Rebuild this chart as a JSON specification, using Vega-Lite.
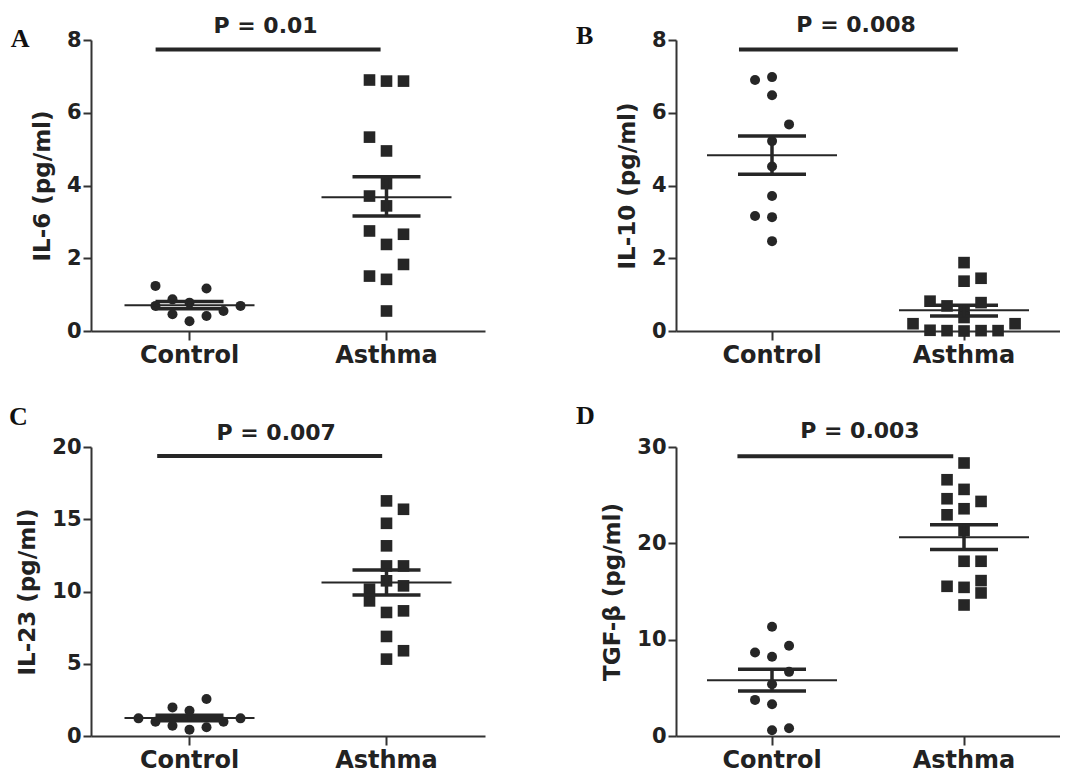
{
  "$schema": "https://vega.github.io/schema/vega-lite/v6.json",
  "padding": {"left": 9, "top": 14, "right": 0, "bottom": 0},
  "background": "white",
  "columns": 2,
  "spacing": {"row": 35, "column": 90},
  "datasets": {
    "a_pts": [
      {"group": "Control", "col": -2, "value": 1.24},
      {"group": "Control", "col": 1, "value": 1.17},
      {"group": "Control", "col": -2, "value": 0.69},
      {"group": "Control", "col": -1, "value": 0.87},
      {"group": "Control", "col": 0, "value": 0.78},
      {"group": "Control", "col": -1, "value": 0.46},
      {"group": "Control", "col": 0, "value": 0.27},
      {"group": "Control", "col": 1, "value": 0.41},
      {"group": "Control", "col": 2, "value": 0.55},
      {"group": "Control", "col": 3, "value": 0.69},
      {"group": "Asthma", "col": -1, "value": 6.9},
      {"group": "Asthma", "col": 0, "value": 6.87},
      {"group": "Asthma", "col": 1, "value": 6.87},
      {"group": "Asthma", "col": -1, "value": 5.33},
      {"group": "Asthma", "col": 0, "value": 4.95},
      {"group": "Asthma", "col": 0, "value": 4.05},
      {"group": "Asthma", "col": -1, "value": 3.71},
      {"group": "Asthma", "col": 0, "value": 3.44},
      {"group": "Asthma", "col": -1, "value": 2.75},
      {"group": "Asthma", "col": 1, "value": 2.66},
      {"group": "Asthma", "col": 0, "value": 2.38},
      {"group": "Asthma", "col": 1, "value": 1.83},
      {"group": "Asthma", "col": -1, "value": 1.51},
      {"group": "Asthma", "col": 0, "value": 1.42},
      {"group": "Asthma", "col": 0, "value": 0.55}
    ],
    "a_stats": [
      {"group": "Control", "mean": 0.71, "lo": 0.61, "hi": 0.81},
      {"group": "Asthma", "mean": 3.68, "lo": 3.16, "hi": 4.24}
    ],
    "a_note": [{"p": "P = 0.01", "letter": "A"}],
    "b_pts": [
      {"group": "Control", "col": -1, "value": 6.9},
      {"group": "Control", "col": 0, "value": 6.98},
      {"group": "Control", "col": 0, "value": 6.48},
      {"group": "Control", "col": 1, "value": 5.68},
      {"group": "Control", "col": 0, "value": 5.22},
      {"group": "Control", "col": 0, "value": 4.52},
      {"group": "Control", "col": 0, "value": 3.71},
      {"group": "Control", "col": -1, "value": 3.16},
      {"group": "Control", "col": 0, "value": 3.13},
      {"group": "Control", "col": 0, "value": 2.47},
      {"group": "Asthma", "col": 0, "value": 1.88},
      {"group": "Asthma", "col": 0, "value": 1.37},
      {"group": "Asthma", "col": 1, "value": 1.45},
      {"group": "Asthma", "col": -2, "value": 0.82},
      {"group": "Asthma", "col": -1, "value": 0.69},
      {"group": "Asthma", "col": 0, "value": 0.58},
      {"group": "Asthma", "col": 1, "value": 0.78},
      {"group": "Asthma", "col": 0, "value": 0.37},
      {"group": "Asthma", "col": -3, "value": 0.2},
      {"group": "Asthma", "col": -2, "value": 0.02},
      {"group": "Asthma", "col": -1, "value": 0.01},
      {"group": "Asthma", "col": 0, "value": 0.0},
      {"group": "Asthma", "col": 1, "value": 0.01},
      {"group": "Asthma", "col": 2, "value": 0.01},
      {"group": "Asthma", "col": 3, "value": 0.2}
    ],
    "b_stats": [
      {"group": "Control", "mean": 4.83, "lo": 4.31, "hi": 5.36},
      {"group": "Asthma", "mean": 0.57, "lo": 0.41, "hi": 0.71}
    ],
    "b_note": [{"p": "P = 0.008", "letter": "B"}],
    "c_pts": [
      {"group": "Control", "col": 1, "value": 2.56},
      {"group": "Control", "col": -1, "value": 1.98},
      {"group": "Control", "col": 0, "value": 1.75},
      {"group": "Control", "col": -3, "value": 1.22},
      {"group": "Control", "col": 3, "value": 1.22},
      {"group": "Control", "col": -2, "value": 0.99},
      {"group": "Control", "col": -1, "value": 0.71},
      {"group": "Control", "col": 1, "value": 0.6},
      {"group": "Control", "col": 2, "value": 0.99},
      {"group": "Control", "col": 0, "value": 0.44},
      {"group": "Asthma", "col": 0, "value": 16.27},
      {"group": "Asthma", "col": 1, "value": 15.69},
      {"group": "Asthma", "col": 0, "value": 14.72},
      {"group": "Asthma", "col": 0, "value": 13.16},
      {"group": "Asthma", "col": 0, "value": 11.77},
      {"group": "Asthma", "col": 1, "value": 11.77},
      {"group": "Asthma", "col": -1, "value": 10.16},
      {"group": "Asthma", "col": 0, "value": 10.74},
      {"group": "Asthma", "col": 1, "value": 10.39},
      {"group": "Asthma", "col": -1, "value": 9.35},
      {"group": "Asthma", "col": 0, "value": 8.55},
      {"group": "Asthma", "col": 1, "value": 8.66},
      {"group": "Asthma", "col": 0, "value": 6.89},
      {"group": "Asthma", "col": 1, "value": 5.9},
      {"group": "Asthma", "col": 0, "value": 5.32}
    ],
    "c_stats": [
      {"group": "Control", "mean": 1.25, "lo": 1.06, "hi": 1.44},
      {"group": "Asthma", "mean": 10.62, "lo": 9.75, "hi": 11.48}
    ],
    "c_note": [{"p": "P = 0.007", "letter": "C"}],
    "d_pts": [
      {"group": "Control", "col": 0, "value": 11.34},
      {"group": "Control", "col": -1, "value": 8.67},
      {"group": "Control", "col": 1, "value": 9.37},
      {"group": "Control", "col": 0, "value": 8.22},
      {"group": "Control", "col": 1, "value": 6.66},
      {"group": "Control", "col": 0, "value": 5.38},
      {"group": "Control", "col": -1, "value": 3.75},
      {"group": "Control", "col": 0, "value": 3.3},
      {"group": "Control", "col": 0, "value": 0.59},
      {"group": "Control", "col": 1, "value": 0.8},
      {"group": "Asthma", "col": 0, "value": 28.34},
      {"group": "Asthma", "col": -1, "value": 26.6},
      {"group": "Asthma", "col": 0, "value": 25.6},
      {"group": "Asthma", "col": -1, "value": 24.63},
      {"group": "Asthma", "col": 1, "value": 24.35},
      {"group": "Asthma", "col": 0, "value": 23.59},
      {"group": "Asthma", "col": -1, "value": 22.96},
      {"group": "Asthma", "col": 0, "value": 21.33},
      {"group": "Asthma", "col": 0, "value": 18.14},
      {"group": "Asthma", "col": 1, "value": 18.14},
      {"group": "Asthma", "col": -1, "value": 15.54},
      {"group": "Asthma", "col": 0, "value": 15.43},
      {"group": "Asthma", "col": 1, "value": 16.13},
      {"group": "Asthma", "col": 1, "value": 14.85},
      {"group": "Asthma", "col": 0, "value": 13.6}
    ],
    "d_stats": [
      {"group": "Control", "mean": 5.79, "lo": 4.68, "hi": 6.94},
      {"group": "Asthma", "mean": 20.64, "lo": 19.35, "hi": 21.92}
    ],
    "d_note": [{"p": "P = 0.003", "letter": "D"}]
  },
  "concat": [
    {
      "width": 394, "height": 291,
      "resolve": {"scale": {"x": "independent"}, "axis": {"x": "independent"}},
      "layer": [
        {
          "layer": [
            {
              "data": {"name": "a_pts"},
              "mark": {"type": "point", "filled": true, "opacity": 1, "color": "#262626"},
              "encoding": {
                "x": {"field": "group", "type": "nominal", "title": null, "scale": {"domain": ["Control", "Asthma"], "paddingInner": 0.482, "paddingOuter": 0.241}},
                "xOffset": {"field": "col", "type": "quantitative", "scale": {"domain": [-3, 3], "nice": false, "zero": false}},
                "y": {"field": "value", "type": "quantitative", "title": "IL-6 (pg/ml)", "scale": {"domain": [0, 8], "nice": false}, "axis": {"values": [0, 2, 4, 6, 8]}},
                "shape": {"field": "group", "type": "nominal", "scale": {"domain": ["Control", "Asthma"], "range": ["circle", "square"]}, "legend": null},
                "size": {"field": "group", "type": "nominal", "scale": {"domain": ["Control", "Asthma"], "range": [100, 135]}, "legend": null}
              }
            },
            {
              "data": {"name": "a_stats"},
              "mark": {"type": "tick", "size": 130, "thickness": 2, "opacity": 1, "color": "#262626"},
              "encoding": {"x": {"field": "group", "type": "nominal", "title": null}, "y": {"field": "mean", "type": "quantitative", "title": "IL-6 (pg/ml)"}}
            },
            {
              "data": {"name": "a_stats"},
              "mark": {"type": "tick", "size": 68, "thickness": 3.5, "opacity": 1, "color": "#262626"},
              "encoding": {"x": {"field": "group", "type": "nominal", "title": null}, "y": {"field": "lo", "type": "quantitative", "title": "IL-6 (pg/ml)"}}
            },
            {
              "data": {"name": "a_stats"},
              "mark": {"type": "tick", "size": 68, "thickness": 3.5, "opacity": 1, "color": "#262626"},
              "encoding": {"x": {"field": "group", "type": "nominal", "title": null}, "y": {"field": "hi", "type": "quantitative", "title": "IL-6 (pg/ml)"}}
            },
            {
              "data": {"name": "a_stats"},
              "mark": {"type": "rule", "strokeWidth": 3.5, "opacity": 1, "color": "#262626"},
              "encoding": {"x": {"field": "group", "type": "nominal", "title": null}, "y": {"field": "lo", "type": "quantitative", "title": "IL-6 (pg/ml)"}, "y2": {"field": "hi"}}
            }
          ]
        },
        {
          "data": {"name": "a_note"},
          "layer": [
            {
              "mark": {"type": "rule", "strokeWidth": 4, "color": "#262626"},
              "encoding": {"x": {"datum": 0.164, "type": "quantitative", "scale": {"domain": [0, 1], "nice": false, "zero": false}, "axis": null}, "x2": {"datum": 0.735}, "y": {"datum": 7.74, "type": "quantitative"}}
            },
            {
              "mark": {"type": "text", "font": "DejaVu Sans", "fontWeight": "bold", "fontSize": 22, "baseline": "middle", "align": "center", "color": "#222222"},
              "encoding": {"x": {"datum": 0.443, "type": "quantitative", "axis": null}, "y": {"datum": 8.385, "type": "quantitative"}, "text": {"field": "p"}}
            },
            {
              "mark": {"type": "text", "font": "Liberation Serif", "fontWeight": "bold", "fontSize": 26, "baseline": "middle", "align": "center", "color": "#111111"},
              "encoding": {"x": {"datum": -0.18, "type": "quantitative", "axis": null}, "y": {"datum": 8.04, "type": "quantitative"}, "text": {"field": "letter"}}
            }
          ]
        }
      ]
    },
    {
      "width": 384, "height": 291,
      "resolve": {"scale": {"x": "independent"}, "axis": {"x": "independent"}},
      "layer": [
        {
          "layer": [
            {
              "data": {"name": "b_pts"},
              "mark": {"type": "point", "filled": true, "opacity": 1, "color": "#262626"},
              "encoding": {
                "x": {"field": "group", "type": "nominal", "title": null, "scale": {"domain": ["Control", "Asthma"], "paddingInner": 0.469, "paddingOuter": 0.2345}},
                "xOffset": {"field": "col", "type": "quantitative", "scale": {"domain": [-3, 3], "nice": false, "zero": false}},
                "y": {"field": "value", "type": "quantitative", "title": "IL-10 (pg/ml)", "scale": {"domain": [0, 8], "nice": false}, "axis": {"values": [0, 2, 4, 6, 8]}},
                "shape": {"field": "group", "type": "nominal", "scale": {"domain": ["Control", "Asthma"], "range": ["circle", "square"]}, "legend": null},
                "size": {"field": "group", "type": "nominal", "scale": {"domain": ["Control", "Asthma"], "range": [100, 135]}, "legend": null}
              }
            },
            {
              "data": {"name": "b_stats"},
              "mark": {"type": "tick", "size": 130, "thickness": 2, "opacity": 1, "color": "#262626"},
              "encoding": {"x": {"field": "group", "type": "nominal", "title": null}, "y": {"field": "mean", "type": "quantitative", "title": "IL-10 (pg/ml)"}}
            },
            {
              "data": {"name": "b_stats"},
              "mark": {"type": "tick", "size": 68, "thickness": 3.5, "opacity": 1, "color": "#262626"},
              "encoding": {"x": {"field": "group", "type": "nominal", "title": null}, "y": {"field": "lo", "type": "quantitative", "title": "IL-10 (pg/ml)"}}
            },
            {
              "data": {"name": "b_stats"},
              "mark": {"type": "tick", "size": 68, "thickness": 3.5, "opacity": 1, "color": "#262626"},
              "encoding": {"x": {"field": "group", "type": "nominal", "title": null}, "y": {"field": "hi", "type": "quantitative", "title": "IL-10 (pg/ml)"}}
            },
            {
              "data": {"name": "b_stats"},
              "mark": {"type": "rule", "strokeWidth": 3.5, "opacity": 1, "color": "#262626"},
              "encoding": {"x": {"field": "group", "type": "nominal", "title": null}, "y": {"field": "lo", "type": "quantitative", "title": "IL-10 (pg/ml)"}, "y2": {"field": "hi"}}
            }
          ]
        },
        {
          "data": {"name": "b_note"},
          "layer": [
            {
              "mark": {"type": "rule", "strokeWidth": 4, "color": "#262626"},
              "encoding": {"x": {"datum": 0.164, "type": "quantitative", "scale": {"domain": [0, 1], "nice": false, "zero": false}, "axis": null}, "x2": {"datum": 0.734}, "y": {"datum": 7.74, "type": "quantitative"}}
            },
            {
              "mark": {"type": "text", "font": "DejaVu Sans", "fontWeight": "bold", "fontSize": 22, "baseline": "middle", "align": "center", "color": "#222222"},
              "encoding": {"x": {"datum": 0.469, "type": "quantitative", "axis": null}, "y": {"datum": 8.4, "type": "quantitative"}, "text": {"field": "p"}}
            },
            {
              "mark": {"type": "text", "font": "Liberation Serif", "fontWeight": "bold", "fontSize": 26, "baseline": "middle", "align": "center", "color": "#111111"},
              "encoding": {"x": {"datum": -0.238, "type": "quantitative", "axis": null}, "y": {"datum": 8.1, "type": "quantitative"}, "text": {"field": "letter"}}
            }
          ]
        }
      ]
    },
    {
      "width": 394, "height": 289,
      "resolve": {"scale": {"x": "independent"}, "axis": {"x": "independent"}},
      "layer": [
        {
          "layer": [
            {
              "data": {"name": "c_pts"},
              "mark": {"type": "point", "filled": true, "opacity": 1, "color": "#262626"},
              "encoding": {
                "x": {"field": "group", "type": "nominal", "title": null, "scale": {"domain": ["Control", "Asthma"], "paddingInner": 0.482, "paddingOuter": 0.241}},
                "xOffset": {"field": "col", "type": "quantitative", "scale": {"domain": [-3, 3], "nice": false, "zero": false}},
                "y": {"field": "value", "type": "quantitative", "title": "IL-23 (pg/ml)", "scale": {"domain": [0, 20], "nice": false}, "axis": {"values": [0, 5, 10, 15, 20]}},
                "shape": {"field": "group", "type": "nominal", "scale": {"domain": ["Control", "Asthma"], "range": ["circle", "square"]}, "legend": null},
                "size": {"field": "group", "type": "nominal", "scale": {"domain": ["Control", "Asthma"], "range": [100, 135]}, "legend": null}
              }
            },
            {
              "data": {"name": "c_stats"},
              "mark": {"type": "tick", "size": 130, "thickness": 2, "opacity": 1, "color": "#262626"},
              "encoding": {"x": {"field": "group", "type": "nominal", "title": null}, "y": {"field": "mean", "type": "quantitative", "title": "IL-23 (pg/ml)"}}
            },
            {
              "data": {"name": "c_stats"},
              "mark": {"type": "tick", "size": 68, "thickness": 3.5, "opacity": 1, "color": "#262626"},
              "encoding": {"x": {"field": "group", "type": "nominal", "title": null}, "y": {"field": "lo", "type": "quantitative", "title": "IL-23 (pg/ml)"}}
            },
            {
              "data": {"name": "c_stats"},
              "mark": {"type": "tick", "size": 68, "thickness": 3.5, "opacity": 1, "color": "#262626"},
              "encoding": {"x": {"field": "group", "type": "nominal", "title": null}, "y": {"field": "hi", "type": "quantitative", "title": "IL-23 (pg/ml)"}}
            },
            {
              "data": {"name": "c_stats"},
              "mark": {"type": "rule", "strokeWidth": 3.5, "opacity": 1, "color": "#262626"},
              "encoding": {"x": {"field": "group", "type": "nominal", "title": null}, "y": {"field": "lo", "type": "quantitative", "title": "IL-23 (pg/ml)"}, "y2": {"field": "hi"}}
            }
          ]
        },
        {
          "data": {"name": "c_note"},
          "layer": [
            {
              "mark": {"type": "rule", "strokeWidth": 4, "color": "#262626"},
              "encoding": {"x": {"datum": 0.168, "type": "quantitative", "scale": {"domain": [0, 1], "nice": false, "zero": false}, "axis": null}, "x2": {"datum": 0.739}, "y": {"datum": 19.38, "type": "quantitative"}}
            },
            {
              "mark": {"type": "text", "font": "DejaVu Sans", "fontWeight": "bold", "fontSize": 22, "baseline": "middle", "align": "center", "color": "#222222"},
              "encoding": {"x": {"datum": 0.47, "type": "quantitative", "axis": null}, "y": {"datum": 21.0, "type": "quantitative"}, "text": {"field": "p"}}
            },
            {
              "mark": {"type": "text", "font": "Liberation Serif", "fontWeight": "bold", "fontSize": 26, "baseline": "middle", "align": "center", "color": "#111111"},
              "encoding": {"x": {"datum": -0.184, "type": "quantitative", "axis": null}, "y": {"datum": 22.05, "type": "quantitative"}, "text": {"field": "letter"}}
            }
          ]
        }
      ]
    },
    {
      "width": 384, "height": 289,
      "resolve": {"scale": {"x": "independent"}, "axis": {"x": "independent"}},
      "layer": [
        {
          "layer": [
            {
              "data": {"name": "d_pts"},
              "mark": {"type": "point", "filled": true, "opacity": 1, "color": "#262626"},
              "encoding": {
                "x": {"field": "group", "type": "nominal", "title": null, "scale": {"domain": ["Control", "Asthma"], "paddingInner": 0.469, "paddingOuter": 0.2345}},
                "xOffset": {"field": "col", "type": "quantitative", "scale": {"domain": [-3, 3], "nice": false, "zero": false}},
                "y": {"field": "value", "type": "quantitative", "title": "TGF-β (pg/ml)", "scale": {"domain": [0, 30], "nice": false}, "axis": {"values": [0, 10, 20, 30]}},
                "shape": {"field": "group", "type": "nominal", "scale": {"domain": ["Control", "Asthma"], "range": ["circle", "square"]}, "legend": null},
                "size": {"field": "group", "type": "nominal", "scale": {"domain": ["Control", "Asthma"], "range": [100, 135]}, "legend": null}
              }
            },
            {
              "data": {"name": "d_stats"},
              "mark": {"type": "tick", "size": 130, "thickness": 2, "opacity": 1, "color": "#262626"},
              "encoding": {"x": {"field": "group", "type": "nominal", "title": null}, "y": {"field": "mean", "type": "quantitative", "title": "TGF-β (pg/ml)"}}
            },
            {
              "data": {"name": "d_stats"},
              "mark": {"type": "tick", "size": 68, "thickness": 3.5, "opacity": 1, "color": "#262626"},
              "encoding": {"x": {"field": "group", "type": "nominal", "title": null}, "y": {"field": "lo", "type": "quantitative", "title": "TGF-β (pg/ml)"}}
            },
            {
              "data": {"name": "d_stats"},
              "mark": {"type": "tick", "size": 68, "thickness": 3.5, "opacity": 1, "color": "#262626"},
              "encoding": {"x": {"field": "group", "type": "nominal", "title": null}, "y": {"field": "hi", "type": "quantitative", "title": "TGF-β (pg/ml)"}}
            },
            {
              "data": {"name": "d_stats"},
              "mark": {"type": "rule", "strokeWidth": 3.5, "opacity": 1, "color": "#262626"},
              "encoding": {"x": {"field": "group", "type": "nominal", "title": null}, "y": {"field": "lo", "type": "quantitative", "title": "TGF-β (pg/ml)"}, "y2": {"field": "hi"}}
            }
          ]
        },
        {
          "data": {"name": "d_note"},
          "layer": [
            {
              "mark": {"type": "rule", "strokeWidth": 4, "color": "#262626"},
              "encoding": {"x": {"datum": 0.16, "type": "quantitative", "scale": {"domain": [0, 1], "nice": false, "zero": false}, "axis": null}, "x2": {"datum": 0.722}, "y": {"datum": 29.03, "type": "quantitative"}}
            },
            {
              "mark": {"type": "text", "font": "DejaVu Sans", "fontWeight": "bold", "fontSize": 22, "baseline": "middle", "align": "center", "color": "#222222"},
              "encoding": {"x": {"datum": 0.479, "type": "quantitative", "axis": null}, "y": {"datum": 31.65, "type": "quantitative"}, "text": {"field": "p"}}
            },
            {
              "mark": {"type": "text", "font": "Liberation Serif", "fontWeight": "bold", "fontSize": 26, "baseline": "middle", "align": "center", "color": "#111111"},
              "encoding": {"x": {"datum": -0.236, "type": "quantitative", "axis": null}, "y": {"datum": 33.25, "type": "quantitative"}, "text": {"field": "letter"}}
            }
          ]
        }
      ]
    }
  ],
  "config": {
    "view": {"stroke": null},
    "font": "DejaVu Sans",
    "axis": {"domainColor": "#333333", "domainWidth": 2, "tickColor": "#333333", "tickWidth": 2, "labelFont": "DejaVu Sans", "labelFontWeight": "bold", "labelColor": "#222222", "titleFont": "DejaVu Sans", "titleFontWeight": "bold", "titleColor": "#222222", "grid": false},
    "axisX": {"tickSize": 9, "labelFontSize": 24, "labelPadding": 3, "labelAngle": 0},
    "axisY": {"tickSize": 8, "labelFontSize": 21, "labelPadding": 2, "titleFontSize": 23, "titlePadding": 12}
  }
}
